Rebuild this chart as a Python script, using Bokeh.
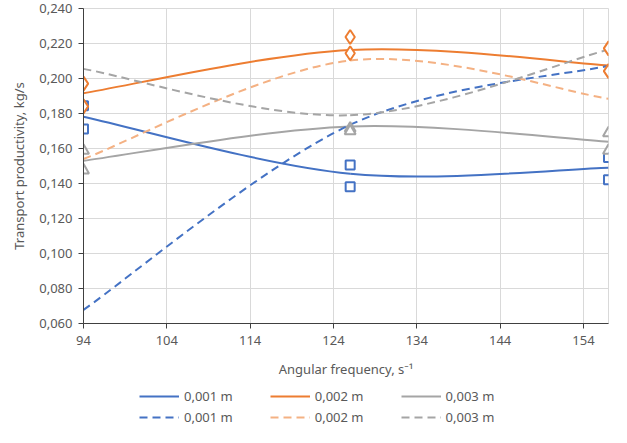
from bokeh.plotting import figure
from bokeh.layouts import column
from bokeh.models import ColumnDataSource, FixedTicker, Legend, LegendItem, Range1d
from bokeh.embed import file_html
from bokeh.resources import INLINE

# ---- data ----
freq = [94, 126, 157]

# smoothed lines (solid: experimental mean, dashed: theoretical)
solid_001 = [0.1782, 0.1456, 0.1490]
solid_002 = [0.1916, 0.2163, 0.2075]
solid_003 = [0.1530, 0.1726, 0.1638]
dash_001 = [0.0678, 0.1735, 0.2073]
dash_002 = [0.1540, 0.2103, 0.1884]
dash_003 = [0.2055, 0.1790, 0.2165]

# experimental points (two measurements per frequency)
pts_001_a = [0.1845, 0.1506, 0.1549]
pts_001_b = [0.1712, 0.1381, 0.1422]
pts_002_a = [0.1971, 0.2237, 0.2172]
pts_002_b = [0.1841, 0.2144, 0.2042]
pts_003_a = [0.1588, 0.1715, 0.1688]
pts_003_b = [0.1476, 0.1700, 0.1588]

labels = ["0,001 m", "0,002 m", "0,003 m"]
x_ticks = [94, 104, 114, 124, 134, 144, 154]
y_ticks = [0.06, 0.08, 0.10, 0.12, 0.14, 0.16, 0.18, 0.20, 0.22, 0.24]
y_tick_labels = ["0,060", "0,080", "0,100", "0,120", "0,140", "0,160",
                 "0,180", "0,200", "0,220", "0,240"]

BLUE = "#4472C4"
ORANGE = "#ED7D31"
ORANGE_LIGHT = "#F4B183"
GRAY = "#A5A5A5"
TXT = "#595959"
FONT = "Noto Sans"
DASH = "8 5"


def smooth_source(xs, ys):
    """Bezier segments with Excel-like smoothing (control points from neighbours)."""
    n = len(xs)
    d = dict(x0=[], y0=[], x1=[], y1=[], cx0=[], cy0=[], cx1=[], cy1=[])
    for i in range(n - 1):
        ip = max(i - 1, 0)
        inn = min(i + 2, n - 1)
        d["x0"].append(xs[i]); d["y0"].append(ys[i])
        d["x1"].append(xs[i + 1]); d["y1"].append(ys[i + 1])
        d["cx0"].append(xs[i] + (xs[i + 1] - xs[ip]) / 6)
        d["cy0"].append(ys[i] + (ys[i + 1] - ys[ip]) / 6)
        d["cx1"].append(xs[i + 1] - (xs[inn] - xs[i]) / 6)
        d["cy1"].append(ys[i + 1] - (ys[inn] - ys[i]) / 6)
    return ColumnDataSource(d)


p = figure(width=611, height=380, output_backend="svg", toolbar_location=None,
           x_range=Range1d(94, 157), y_range=Range1d(0.06, 0.24),
           min_border_left=83, min_border_right=3, min_border_top=8,
           min_border_bottom=0)
p.background_fill_color = "white"
p.border_fill_color = "white"
p.outline_line_color = "#D9D9D9"

# grid
p.xgrid.ticker = FixedTicker(ticks=x_ticks)
p.ygrid.ticker = FixedTicker(ticks=y_ticks)
for g in (p.xgrid, p.ygrid):
    g.grid_line_color = "#D9D9D9"
    g.grid_line_width = 1

# axes
p.xaxis.ticker = FixedTicker(ticks=x_ticks)
p.yaxis.ticker = FixedTicker(ticks=y_ticks)
p.yaxis.major_label_overrides = {t: l for t, l in zip(y_ticks, y_tick_labels)}
p.xaxis.axis_label = "Angular frequency, s\u207b\u00b9"
p.yaxis.axis_label = "Transport productivity, kg/s"
for ax in (p.xaxis, p.yaxis):
    ax.axis_line_color = "#404040"
    ax.major_tick_line_color = "#404040"
    ax.minor_tick_line_color = None
    ax.major_tick_in = 0
    ax.major_tick_out = 5
    ax.major_label_text_font = FONT
    ax.major_label_text_font_size = "13px"
    ax.major_label_text_color = TXT
    ax.axis_label_text_font = FONT
    ax.axis_label_text_font_size = "13px"
    ax.axis_label_text_font_style = "normal"
    ax.axis_label_text_color = TXT
p.xaxis.major_label_standoff = 7
p.xaxis.axis_label_standoff = 12
p.yaxis.major_label_standoff = 6
p.yaxis.axis_label_standoff = 8

# lines
solid = [(solid_001, BLUE), (solid_002, ORANGE), (solid_003, GRAY)]
dashed = [(dash_001, BLUE), (dash_002, ORANGE_LIGHT), (dash_003, GRAY)]
for ys, c in solid:
    p.bezier(x0="x0", y0="y0", x1="x1", y1="y1", cx0="cx0", cy0="cy0",
             cx1="cx1", cy1="cy1", source=smooth_source(freq, ys),
             line_color=c, line_width=2)
for ys, c in dashed:
    p.bezier(x0="x0", y0="y0", x1="x1", y1="y1", cx0="cx0", cy0="cy0",
             cx1="cx1", cy1="cy1", source=smooth_source(freq, ys),
             line_color=c, line_width=2, line_dash=DASH)

# markers
for ys in (pts_001_a, pts_001_b):
    p.scatter(freq, ys, marker="square", size=9, line_color=BLUE, line_width=2,
              fill_color="white")
for ys in (pts_002_a, pts_002_b):
    p.scatter(freq, ys, marker="diamond", size=14, line_color=ORANGE, line_width=2,
              fill_color="white")
for ys in (pts_003_a, pts_003_b):
    p.scatter(freq, ys, marker="triangle", size=11, line_color=GRAY, line_width=2,
              fill_color="white")

# ---- legend strip below the chart ----
lg = figure(width=611, height=47, output_backend="svg", toolbar_location=None,
            x_range=Range1d(0, 1), y_range=Range1d(0, 1),
            x_axis_location=None, y_axis_location=None,
            min_border_left=0, min_border_right=0, min_border_top=0,
            min_border_bottom=0)
lg.outline_line_color = None
lg.xgrid.visible = False
lg.ygrid.visible = False
lg.background_fill_color = "white"
lg.border_fill_color = "white"

# legend key renderers: placed outside the strip's visible range
key_x = [-10, -9]
key_y = [-10, -9]
solid_keys = [lg.line(key_x, key_y, line_color=c, line_width=2) for _, c in solid]
dashed_keys = [lg.line(key_x, key_y, line_color=c, line_width=2, line_dash=DASH)
               for _, c in dashed]


def make_legend(rs, bottom):
    return Legend(items=[LegendItem(label=l, renderers=[r]) for l, r in zip(labels, rs)],
                  orientation="horizontal", location=(56, bottom),
                  label_text_font=FONT, label_text_font_size="13px",
                  label_text_color=TXT, glyph_width=40, glyph_height=18,
                  label_standoff=5, spacing=37, padding=1, margin=0,
                  border_line_color=None, background_fill_alpha=0)


lg.add_layout(make_legend(solid_keys, 22), "center")
lg.add_layout(make_legend(dashed_keys, 1), "center")

layout = column(p, lg, spacing=0)
open("out.html", "w").write(file_html(layout, INLINE))
